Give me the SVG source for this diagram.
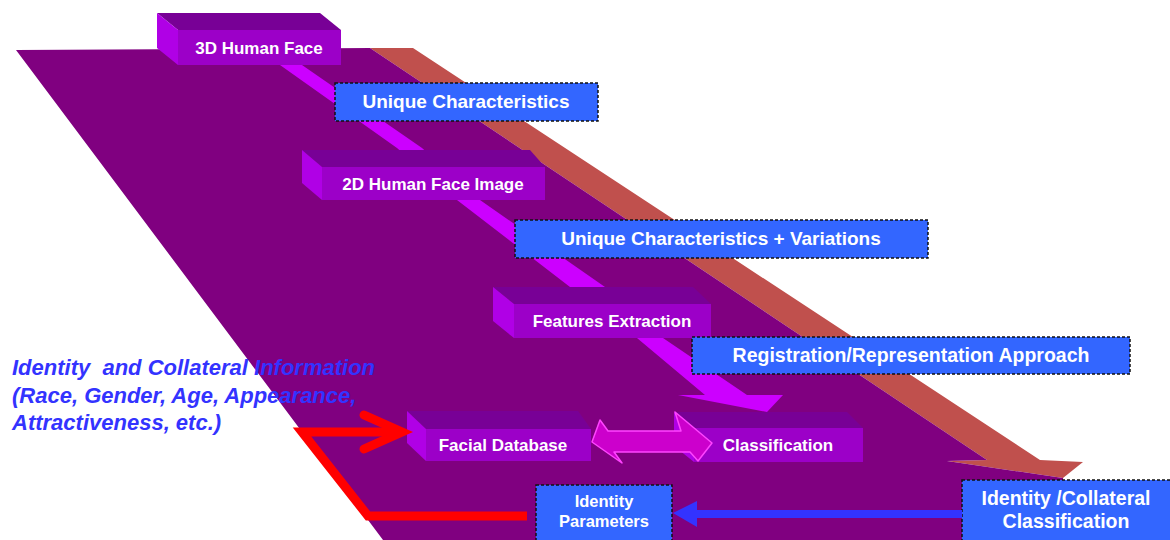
<svg xmlns="http://www.w3.org/2000/svg" width="1170" height="540" viewBox="0 0 1170 540">
  <style>
    .top { fill: #780096; }
    .side { fill: #B000E6; }
    .front { fill: #9C00C8; }
    .lbl3d { font-family: "Liberation Sans", Arial, sans-serif; font-weight: bold; font-size: 17px; fill: #FFFFFF; text-anchor: middle; }
    .note { fill: #3366FF; stroke: #111111; stroke-width: 1.5; stroke-dasharray: 3 2; }
    .lblnote { font-family: "Liberation Sans", Arial, sans-serif; font-weight: bold; font-size: 19px; fill: #FFFFFF; text-anchor: middle; }
    .side-text { font-family: "Liberation Sans", Arial, sans-serif; font-weight: bold; font-style: italic; font-size: 22px; fill: #3333FF; white-space: pre; }
  </style>

  <!-- perspective platform: brown side face and purple top face -->
  <g id="platform">
    <polygon points="370,48 413,48 1040,460 1083,462 1063,478 947,461 987,460" fill="#C0504D"/>
    <polygon points="16,50 370,48 987,460 947,461 1063,478 1070,540 383,540" fill="#800080"/>
  </g>

  <!-- main processing flow band -->
  <g id="flow-band">
    <polygon points="280,65 302,65 422,148 480,200 605,287 663,338 747,395 783,395 767,412 678,395 705,395 637,338 570,287 457,200 397,148" fill="#CC00FF"/>
  </g>

  <!-- prism nodes -->
  <g id="node-3d-face">
    <polygon class="top" points="157,13 320,13 341,30 178,30"/>
    <polygon class="side" points="157,13 178,30 178,65 157,48"/>
    <rect class="front" x="178" y="30" width="163" height="35"/>
    <text class="lbl3d" x="259" y="54">3D Human Face</text>
  </g>

  <g id="node-2d-image">
    <polygon class="top" points="302,150 530,150 545,167 322,167"/>
    <polygon class="side" points="302,150 322,167 322,200 302,183"/>
    <rect class="front" x="322" y="167" width="223" height="33"/>
    <text class="lbl3d" x="433" y="190">2D Human Face Image</text>
  </g>

  <g id="node-features">
    <polygon class="top" points="493,287 693,287 711,304 514,304"/>
    <polygon class="side" points="493,287 514,304 514,338 493,321"/>
    <rect class="front" x="514" y="304" width="197" height="34"/>
    <text class="lbl3d" x="612" y="327">Features Extraction</text>
  </g>

  <g id="node-database">
    <polygon class="top" points="407,411 578,411 591,429 426,429"/>
    <polygon class="side" points="407,411 426,429 426,461 407,443"/>
    <rect class="front" x="426" y="429" width="165" height="32"/>
    <text class="lbl3d" x="503" y="451">Facial Database</text>
  </g>

  <g id="node-classification">
    <polygon class="top" points="674,412 847,412 863,428 694,428"/>
    <polygon class="side" points="674,412 694,428 694,462 674,446"/>
    <rect class="front" x="694" y="428" width="169" height="34"/>
    <text class="lbl3d" x="778" y="451">Classification</text>
  </g>

  <!-- annotation boxes -->
  <g id="note-unique">
    <rect class="note" x="335" y="83" width="263" height="38"/>
    <text class="lblnote" x="466" y="108">Unique Characteristics</text>
  </g>

  <g id="note-variations">
    <rect class="note" x="515" y="220" width="413" height="38"/>
    <text class="lblnote" x="721" y="245">Unique Characteristics + Variations</text>
  </g>

  <g id="note-registration">
    <rect class="note" x="692" y="337" width="438" height="37"/>
    <text class="lblnote" x="911" y="362" style="font-size:19.5px">Registration/Representation Approach</text>
  </g>

  <g id="note-identity-params">
    <rect class="note" x="536" y="485" width="136" height="62"/>
    <text class="lblnote" x="604" y="507" style="font-size:16.5px">Identity</text>
    <text class="lblnote" x="604" y="527" style="font-size:16.5px">Parameters</text>
  </g>

  <g id="note-identity-class">
    <rect class="note" x="962" y="480" width="212" height="64"/>
    <text class="lblnote" x="1066" y="505" style="font-size:19.5px">Identity /Collateral</text>
    <text class="lblnote" x="1066" y="528" style="font-size:19.5px">Classification</text>
  </g>

  <!-- connectors -->
  <g id="connectors">
    <polygon points="592,442 600,420 608,431 681,431 675,412 712,443 698,461 690,452 614,452 622,463" fill="#CC00CC" stroke="#FF44FF" stroke-width="1.5" stroke-linejoin="round"/>
    <polyline points="527,516 368,516 302,432 398,432" fill="none" stroke="#FF0000" stroke-width="9" stroke-linejoin="miter"/>
    <polyline points="364,415 402,432 364,449" fill="none" stroke="#FF0000" stroke-width="9" stroke-linecap="round" stroke-linejoin="miter"/>
    <line x1="962" y1="514" x2="692" y2="514" stroke="#3333FF" stroke-width="8"/>
    <polygon points="673,513 697,501 697,527" fill="#3333FF"/>
  </g>

  <!-- side annotation -->
  <g id="collateral-info">
    <text class="side-text" x="12" y="375">Identity  and Collateral Information</text>
    <text class="side-text" x="12" y="403">(Race, Gender, Age, Appearance,</text>
    <text class="side-text" x="12" y="430">Attractiveness, etc.)</text>
  </g>
</svg>
